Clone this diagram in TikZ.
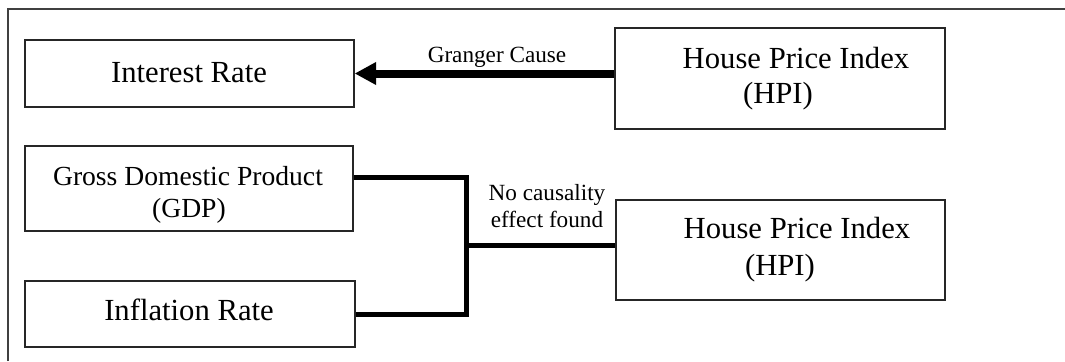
\documentclass[tikz,border=0pt]{standalone}
\usepackage{fontspec}
\setmainfont{Liberation Serif}
\usetikzlibrary{fit,arrows.meta}
\begin{document}
\begin{tikzpicture}[x=0.75pt,y=-0.75pt,
  box/.style={draw=black!85, line width=1pt, inner sep=0pt},
  big/.style={inner sep=0pt, anchor=base, font=\fontsize{23}{27}\selectfont},
  mid/.style={inner sep=0pt, anchor=base, font=\fontsize{20.7}{24}\selectfont},
  small/.style={inner sep=0pt, anchor=base, font=\fontsize{17.4}{20}\selectfont},
  frame/.style={draw=black!75, line width=1.1pt},
  cause/.style={line width=6pt, -{Triangle[length=16pt,width=16pt]}},
  conn/.style={line width=3.75pt, line join=miter}]
\useasboundingbox (0,0) rectangle (1065,361);
\draw[frame] (8,361) -- (8,9) -- (1065,9);
% boxes
\node[box, fit={(25,40)(354,107)}] (ir) {};
\node[box, fit={(615,28)(945,129)}] (hpi1) {};
\node[box, fit={(25,146)(353,231)}] (gdp) {};
\node[box, fit={(25,281)(355,347)}] (inf) {};
\node[box, fit={(616,200)(945,300)}] (hpi2) {};
% texts
\node[big] (irt) at (189,82) {Interest Rate};
\node[big] (h1a) at (796,68) {House Price Index};
\node[big] (h1b) at (778,103) {(HPI)};
\node[big] (h2a) at (797,238) {House Price Index};
\node[big] (h2b) at (780,275) {(HPI)};
\node[mid] (g1) at (188,185) {Gross Domestic Product};
\node[mid] (g2) at (189,217) {(GDP)};
\node[big] (inft) at (189,320) {Inflation Rate};
\node[small] (gc) at (497,62) {Granger Cause};
\node[small] (nc1) at (547,200) {No causality};
\node[small] (nc2) at (547,227) {effect found};
% connectors
\draw[cause] (hpi1.west |- ir.east) -- (ir.east);
\coordinate (j) at (466,245);
\draw[conn] ([yshift=8.6pt]gdp.east) -| (j) |- (inf.east);
\draw[conn] (j) -- (hpi2.west |- j);
\end{tikzpicture}
\end{document}
